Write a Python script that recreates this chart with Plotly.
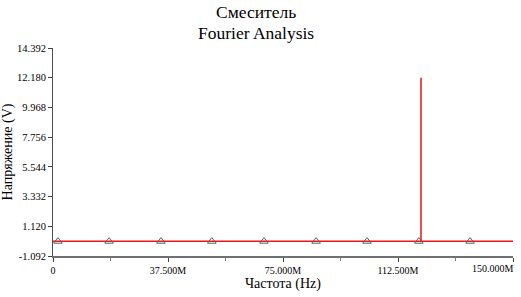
import plotly.graph_objects as go

# Data
freq_line = [0, 120.0e6, 120.0e6, 120.0e6, 150.0e6]
volt_line = [0.0, 0.0, 12.18, 0.0, 0.0]
marker_freq = [1.6e6, 18.3e6, 35.2e6, 51.8e6, 68.8e6, 85.8e6, 102.4e6, 119.3e6, 136.0e6]
marker_volt = [0.0] * 9
y_ticks = [-1.092, 1.120, 3.332, 5.544, 7.756, 9.968, 12.180, 14.392]
x_ticks = [0, 37.5e6, 75e6, 112.5e6, 150e6]
x_ticklabels = ["0", "37.500M", "75.000M", "112.500M", "150.000M"]
x_minor = [18.75e6, 56.25e6, 93.75e6, 131.25e6]
title_lines = ["Смеситель", "Fourier Analysis"]
x_title = "Частота (Hz)"
y_title = "Напряжение (V)"

serif = "Liberation Serif, Times New Roman, serif"

fig = go.Figure()
fig.add_trace(go.Scatter(x=freq_line, y=volt_line, mode="lines",
                         line=dict(color="#e8141a", width=1.5), showlegend=False))
fig.add_trace(go.Scatter(x=marker_freq, y=marker_volt, mode="markers",
                         marker=dict(symbol="triangle-up-open", size=7.5,
                                     color="#606060", line=dict(width=1)),
                         showlegend=False))

# tick labels: last one drawn as an annotation so it stays inside the figure
shown_labels = x_ticklabels[:-1] + [""]

fig.update_layout(
    width=521, height=297,
    margin=dict(l=53, r=8, t=48, b=41),
    paper_bgcolor="white", plot_bgcolor="white",
    font=dict(family=serif, color="black"),
    xaxis=dict(range=[0, 150e6], tickvals=x_ticks, ticktext=shown_labels,
               automargin=False,
               showgrid=False, zeroline=False, showline=True,
               linecolor="#707070", linewidth=2,
               ticks="outside", ticklen=4, tickcolor="#404040",
               tickfont=dict(family=serif, size=10, color="black"),
               minor=dict(tickvals=x_minor, ticks="outside", ticklen=3,
                          tickcolor="#808080", showgrid=False)),
    yaxis=dict(range=[-1.092, 14.392], tickvals=y_ticks,
               ticktext=[f"{v:.3f}" for v in y_ticks],
               automargin=False,
               showgrid=False, zeroline=False, showline=True,
               linecolor="#505050", linewidth=1,
               ticks="outside", ticklen=4, tickcolor="#404040",
               tickfont=dict(family=serif, size=10.5, color="black"),
               title=dict(text=y_title,
                          font=dict(family=serif, size=14, color="black"))),
)

fig.add_annotation(text=x_ticklabels[-1], x=x_ticks[-1], xref="x", xanchor="right",
                   xshift=3, y=0, yref="paper", yanchor="top", yshift=-5,
                   showarrow=False, font=dict(family=serif, size=10, color="black"))

fig.add_annotation(text=x_title, x=0.5, xref="paper", xanchor="center",
                   y=-0.1346, yref="paper", yanchor="middle",
                   showarrow=False, font=dict(family=serif, size=14, color="black"))

fig.add_annotation(text=title_lines[0], x=0.5, xref="paper", xanchor="center",
                   xshift=-27, y=1.173, yref="paper", yanchor="middle",
                   showarrow=False, font=dict(family=serif, size=17.5, color="black"))
fig.add_annotation(text=title_lines[1], x=0.5, xref="paper", xanchor="center",
                   xshift=-27, y=1.072, yref="paper", yanchor="middle",
                   showarrow=False, font=dict(family=serif, size=17.5, color="black"))

fig.write_html("out.html")
